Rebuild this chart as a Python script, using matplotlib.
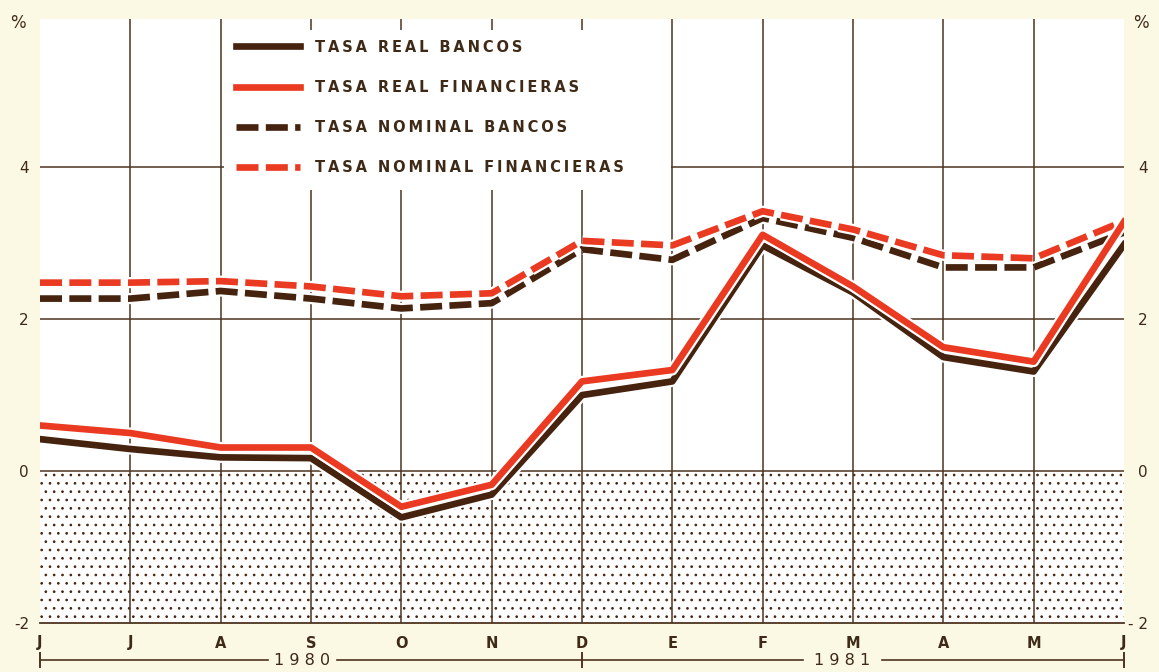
import matplotlib
matplotlib.use('Agg')
import matplotlib.pyplot as plt
import matplotlib.patheffects as pe
from matplotlib.patches import Rectangle
import matplotlib.transforms as mtransforms

# ---- data ----
months = ['J', 'J', 'A', 'S', 'O', 'N', 'D', 'E', 'F', 'M', 'A', 'M', 'J']
real_bancos = [0.42, 0.29, 0.18, 0.17, -0.61, -0.31, 1.00, 1.18, 2.97, 2.35, 1.50, 1.31, 2.98]
real_financieras = [0.60, 0.50, 0.31, 0.31, -0.47, -0.18, 1.18, 1.33, 3.11, 2.43, 1.63, 1.44, 3.28]
nominal_bancos = [2.27, 2.27, 2.37, 2.27, 2.14, 2.21, 2.92, 2.78, 3.33, 3.07, 2.68, 2.68, 3.14]
nominal_financieras = [2.48, 2.48, 2.50, 2.43, 2.30, 2.34, 3.03, 2.97, 3.42, 3.18, 2.84, 2.80, 3.29]
series_labels = ['TASA REAL BANCOS', 'TASA REAL FINANCIERAS',
                 'TASA NOMINAL BANCOS', 'TASA NOMINAL FINANCIERAS']
yticks = [-2, 0, 2, 4]
ytick_left = ['-2', '0', '2', '4']
ytick_right = ['- 2', '0', '2', '4']
years = ['1980', '1981']

# ---- style ----
CREAM = '#fbf8e3'
BROWN = '#45230f'
RED = '#ea3a22'
GRID = '#4e3420'
TEXT = '#3e2a16'
plt.rcParams['hatch.linewidth'] = 0.7


def spaced(s):
    return '\u2009'.join(s)


fig = plt.figure(figsize=(11.59, 6.72), dpi=100, facecolor=CREAM)
ax = fig.add_axes([40 / 1159, 49 / 672, 1084 / 1159, 604 / 672])
ax.set_facecolor('white')
x = list(range(len(months)))
ax.set_xlim(0, len(months) - 1)
ax.set_ylim(-2, 5.95)

# stippled negative region
ax.fill_between(x, -2, 0, facecolor='white', edgecolor=BROWN, hatch='..',
                linewidth=0, zorder=1)

# grid
for xi in x[1:-1]:
    ax.axvline(xi, color=GRID, lw=1.1, zorder=2)
for yv in yticks[1:]:
    ax.axhline(yv, color=GRID, lw=1.1, zorder=2)

for s in ['left', 'right', 'top']:
    ax.spines[s].set_visible(False)
ax.spines['bottom'].set_color(GRID)
ax.spines['bottom'].set_linewidth(1.3)
ax.spines['bottom'].set_zorder(2)

# legend blank box
ax.add_patch(Rectangle((0.170, 0.717), 0.412, 0.265, transform=ax.transAxes,
                       facecolor='white', edgecolor='none', zorder=3))

lw = 4.8
stroke = [pe.withStroke(linewidth=lw + 3.2, foreground='white')]
dash = (3.3, 1.1)
h = []
h += ax.plot(x, nominal_bancos, color=BROWN, lw=lw, ls=(0, dash), zorder=4,
             path_effects=stroke, label=spaced(series_labels[2]), dash_capstyle='butt')
h += ax.plot(x, nominal_financieras, color=RED, lw=lw, ls=(0, dash), zorder=4,
             path_effects=stroke, label=spaced(series_labels[3]), dash_capstyle='butt')
h += ax.plot(x, real_bancos, color=BROWN, lw=lw, zorder=4,
             path_effects=stroke, label=spaced(series_labels[0]))
h += ax.plot(x, real_financieras, color=RED, lw=lw, zorder=4,
             path_effects=stroke, label=spaced(series_labels[1]))
order = [h[2], h[3], h[0], h[1]]
leg = ax.legend(handles=order, loc='upper left', bbox_to_anchor=(0.181, 0.966),
                frameon=False, prop={'family': 'DejaVu Sans', 'weight': 'bold', 'size': 10.5},
                handlelength=4.4, handletextpad=1.0, labelspacing=1.72, borderpad=0,
                borderaxespad=0)
for t in leg.get_texts():
    t.set_color(TEXT)
leg.set_zorder(6)

# ticks
ax.set_xticks(x)
ax.set_xticklabels(months, fontsize=10.5, fontweight='bold', color=TEXT)
ax.tick_params(axis='x', length=0, pad=9)
ax.set_yticks(yticks)
ax.set_yticklabels(ytick_left, fontsize=11, color=TEXT)
ax.tick_params(axis='y', length=0, pad=8)
ax2 = ax.twinx()
ax2.set_ylim(ax.get_ylim())
ax2.set_yticks(yticks)
ax2.set_yticklabels(ytick_right, fontsize=11, color=TEXT, ha='right')
ax2.tick_params(axis='y', length=0, pad=17)
for s in ax2.spines.values():
    s.set_visible(False)

fig.text(18 / 1159, 1 - 23 / 672, '%', fontsize=12, color=TEXT, ha='center', va='center')
fig.text(1141 / 1159, 1 - 23 / 672, '%', fontsize=12, color=TEXT, ha='center', va='center')

# year bar
tr = mtransforms.blended_transform_factory(ax.transData, ax.transAxes)
yb = -0.0613
n = len(months) - 1
segs = [(0, 2.52), (3.29, 8.45), (9.32, n)]
for a, b in segs:
    ax.plot([a, b], [yb, yb], color=GRID, lw=1.2, transform=tr, clip_on=False)
for xt in [0, n / 2, n]:
    ax.plot([xt, xt], [yb - 0.012, yb + 0.012], color=GRID, lw=1.4, transform=tr, clip_on=False)
ax.text(2.9, yb, ' '.join(years[0]), transform=tr, ha='center', va='center',
        fontsize=11.5, color=TEXT)
ax.text(8.88, yb, ' '.join(years[1]), transform=tr, ha='center', va='center',
        fontsize=11.5, color=TEXT)

fig.savefig('out.png', dpi=100, facecolor=CREAM)
